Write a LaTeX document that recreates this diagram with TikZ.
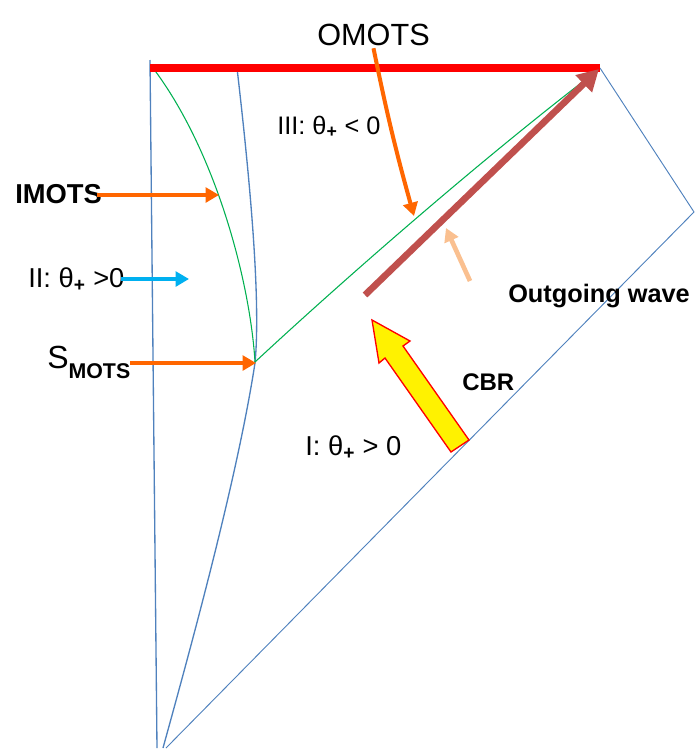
\documentclass[tikz,border=0pt]{standalone}
\usepackage{fontspec}
\setmainfont{Liberation Sans}
\usetikzlibrary{arrows.meta}

\definecolor{lineblue}{RGB}{79,129,189}
\definecolor{motsgreen}{RGB}{0,176,80}
\definecolor{ptrorange}{RGB}{255,102,0}
\definecolor{wavebrown}{RGB}{192,80,77}
\definecolor{peach}{RGB}{250,192,144}
\definecolor{skyblue}{RGB}{0,176,240}

\newcommand{\thplus}{θ\textsubscript{\textbf{+}}}

\begin{document}
\begin{tikzpicture}[x=0.75pt,y=-0.75pt,
  bnd/.style={draw=lineblue,line width=1pt},
  horizon/.style={draw=motsgreen,line width=0.8pt},
  pointer/.style={draw=ptrorange,line width=3pt,-{Triangle[length=10pt,width=11pt]}},
  lbl/.style={inner sep=0pt,anchor=base west}]

\useasboundingbox (0,0) rectangle (696,754);

%BOUNDARIES
\draw[bnd] (150,60) -- (157,748);
\draw[bnd] (237,68) .. controls (250,180) and (261,300) .. (255,363)
  .. controls (237,480) and (190,650) .. (163,748);
\draw[bnd,line width=0.7pt] (600,68) -- (694,212) -- (166,748);

%MOTS CURVES
\draw[horizon] (153,68) .. controls (215,150) and (250,280) .. (255,362);
\draw[horizon] (255,362) .. controls (340,283) and (480,160) .. (598,70);

%singularity
\draw[red,line width=5.3pt] (150,68) -- (600,68);

%outgoing wave
\draw[wavebrown,line width=5pt,-{Triangle[length=16pt,width=17pt]}] (365,295) -- (599,69);
\draw[peach,line width=3.5pt,-{Triangle[length=10pt,width=11pt]}] (470,281) -- (446,228);

%CBR
\filldraw[fill=yellow,draw=red,line width=1pt] (451,452) -- (469,440) -- (403,346) -- (410,341) -- (372,320) -- (379,363) -- (385,358) -- cycle;

%%%%%%%%%%%%%%%%%%%%
%labels
\node[lbl,font=\fontsize{23}{23}\selectfont] (omots) at (317,45) {OMOTS};
\node[lbl,font=\bfseries\fontsize{20.5}{20.5}\selectfont] (imots) at (15,203) {IMOTS};
\node[lbl,font=\fontsize{20.5}{20.5}\selectfont] (reg2) at (28,287) {II: \thplus\ >0};
\node[lbl,font=\fontsize{19}{19}\selectfont] (reg3) at (277,134) {III: \thplus\ < 0};
\node[lbl,font=\fontsize{20.5}{20.5}\selectfont] (reg1) at (305,455) {I: \thplus\ > 0};
\node[lbl,font=\fontsize{24}{24}\selectfont] (smots) at (47,368) {S\raisebox{-7.5pt}{\fontsize{16}{16}\selectfont\bfseries MOTS}};
\node[lbl,font=\bfseries\fontsize{19}{19}\selectfont] (wave) at (508,302) {Outgoing wave};
\node[lbl,font=\bfseries\fontsize{18}{18}\selectfont] (cbr) at (462,390) {CBR};

%%%%%%%%%%%%%%%%%%%%
%pointers
\coordinate (imotspt) at (219,195);
\coordinate (reg2pt) at (189,279);
\coordinate (smotspt) at (256,363);
\coordinate (omotspt) at (414,216);

\draw[pointer] ([xshift=-4pt]imots.east |- imotspt) -- (imotspt);
\draw[pointer,draw=skyblue] ([xshift=-3pt]reg2.east |- reg2pt) -- (reg2pt);
\draw[pointer] (130,363) -- (smotspt);
\draw[pointer] ([yshift=-2pt]omots.south) to[bend right=2] (omotspt);
\end{tikzpicture}
\end{document}
